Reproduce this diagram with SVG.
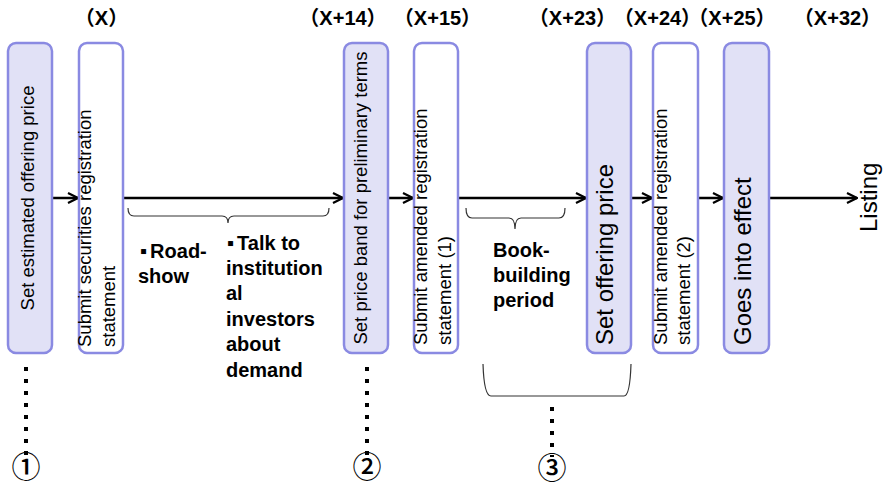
<svg xmlns="http://www.w3.org/2000/svg" width="883" height="487" viewBox="0 0 883 487">
  <defs>
    <style>
      .box { stroke: #8a8ae2; stroke-width: 2.5; }
      .fill { fill: #e1e1f6; }
      .blank { fill: #ffffff; }
      .lbl { font-family: "Liberation Sans", Arial, sans-serif; font-size: 18.5px; fill: #000; }
      .big { font-family: "Liberation Sans", Arial, sans-serif; font-size: 24px; fill: #000; }
      .day { font-family: "Liberation Sans", "Noto Sans CJK JP", sans-serif; font-size: 20px; font-weight: bold; text-anchor: middle; fill: #000; font-feature-settings: "halt"; }
      .note { font-family: "Liberation Sans", "DejaVu Sans", sans-serif; font-size: 20px; font-weight: bold; fill: #000; }
      .num { font-family: "Noto Sans CJK JP", "DejaVu Sans", sans-serif; font-size: 29px; font-weight: 500; text-anchor: middle; fill: #000; }
      .flow { stroke: #000; stroke-width: 2.5; fill: none; }
      .brace { stroke: #333; stroke-width: 1.2; fill: none; }
      .dots { stroke: #000; stroke-width: 4; stroke-dasharray: 4 8; fill: none; }
    </style>
    <marker id="head" viewBox="0 0 12 12" refX="11" refY="6" markerWidth="12" markerHeight="12" markerUnits="userSpaceOnUse" orient="auto">
      <path d="M1,1 L11,6 L1,11" fill="none" stroke="#000" stroke-width="2.2"/>
    </marker>
  </defs>

  <!-- day labels -->
  <g id="days">
    <text class="day" x="101.5" y="25">（X）</text>
    <text class="day" x="343" y="25">（X+14）</text>
    <text class="day" x="437.5" y="25">（X+15）</text>
    <text class="day" x="572.5" y="25">（X+23）</text>
    <text class="day" x="657.5" y="25">（X+24）</text>
    <text class="day" x="732" y="25">（X+25）</text>
    <text class="day" x="837.5" y="25">（X+32）</text>
  </g>

  <!-- connectors -->
  <g id="connectors">
    <line class="flow" x1="52" y1="198" x2="78" y2="198" marker-end="url(#head)"/>
    <line class="flow" x1="123" y1="198" x2="343" y2="198" marker-end="url(#head)"/>
    <line class="flow" x1="388" y1="198" x2="413" y2="198" marker-end="url(#head)"/>
    <line class="flow" x1="458" y1="198" x2="586" y2="198" marker-end="url(#head)"/>
    <line class="flow" x1="631" y1="198" x2="652" y2="198" marker-end="url(#head)"/>
    <line class="flow" x1="698" y1="198" x2="723" y2="198" marker-end="url(#head)"/>
    <line class="flow" x1="769" y1="198" x2="857" y2="198" marker-end="url(#head)"/>
  </g>

  <!-- step boxes -->
  <g id="step-estimate">
    <rect class="box fill" x="8" y="43" width="44" height="310" rx="8"/>
    <text class="lbl" text-anchor="middle" transform="translate(34,198) rotate(-90)">Set estimated offering price</text>
  </g>
  <g id="step-register">
    <rect class="box blank" x="79" y="43" width="44" height="310" rx="8"/>
    <text class="lbl" transform="translate(91,347) rotate(-90)">Submit securities registration</text>
    <text class="lbl" transform="translate(115,347) rotate(-90)">statement</text>
  </g>
  <g id="step-band">
    <rect class="box fill" x="344" y="43" width="44" height="310" rx="8"/>
    <text class="lbl" text-anchor="middle" transform="translate(367,198) rotate(-90)">Set price band for preliminary terms</text>
  </g>
  <g id="step-amend1">
    <rect class="box blank" x="414" y="43" width="44" height="310" rx="8"/>
    <text class="lbl" transform="translate(427,345) rotate(-90)">Submit amended registration</text>
    <text class="lbl" transform="translate(451,345) rotate(-90)">statement (1)</text>
  </g>
  <g id="step-price">
    <rect class="box fill" x="587" y="43" width="44" height="310" rx="8"/>
    <text class="big" transform="translate(613,345) rotate(-90)">Set offering price</text>
  </g>
  <g id="step-amend2">
    <rect class="box blank" x="653" y="43" width="45" height="310" rx="8"/>
    <text class="lbl" transform="translate(667,345) rotate(-90)">Submit amended registration</text>
    <text class="lbl" transform="translate(690,345) rotate(-90)">statement (2)</text>
  </g>
  <g id="step-effect">
    <rect class="box fill" x="724" y="43" width="45" height="310" rx="8"/>
    <text class="big" transform="translate(751,345) rotate(-90)">Goes into effect</text>
  </g>
  <g id="listing">
    <text class="big" transform="translate(877,232) rotate(-90)">Listing</text>
  </g>

  <!-- braces -->
  <g id="braces">
    <path class="brace" d="M128,208 Q128,216 134,216 L222,216 Q228,216 228,223 Q228,216 234,216 L323,216 Q329,216 329,208"/>
    <path class="brace" d="M466,208 Q466,218 472,218 L509,218 Q515,218 515,229 Q515,218 521,218 L559,218 Q565,218 565,208"/>
    <path class="brace" d="M483,364 Q484,396 491,396 L624,396 Q630,396 631,364"/>
  </g>

  <!-- period notes -->
  <g id="notes">
    <text class="note" x="140" y="258">▪<tspan dx="3">Road-</tspan></text>
    <text class="note" x="138" y="283">show</text>
    <text class="note" x="227" y="250">▪<tspan dx="3">Talk to</tspan></text>
    <text class="note" x="226" y="275">institution</text>
    <text class="note" x="226" y="300">al</text>
    <text class="note" x="226" y="326">investors</text>
    <text class="note" x="226" y="351">about</text>
    <text class="note" x="226" y="377">demand</text>
    <text class="note" x="493" y="257">Book-</text>
    <text class="note" x="493" y="282">building</text>
    <text class="note" x="493" y="307">period</text>
  </g>

  <!-- phase markers -->
  <g id="markers">
    <line class="dots" x1="26" y1="367" x2="26" y2="455"/>
    <line class="dots" x1="367" y1="367" x2="367" y2="455"/>
    <line class="dots" x1="552" y1="407" x2="552" y2="457"/>
    <text class="num" x="26" y="478">①</text>
    <text class="num" x="367" y="478">②</text>
    <text class="num" x="552" y="479">③</text>
  </g>
</svg>
